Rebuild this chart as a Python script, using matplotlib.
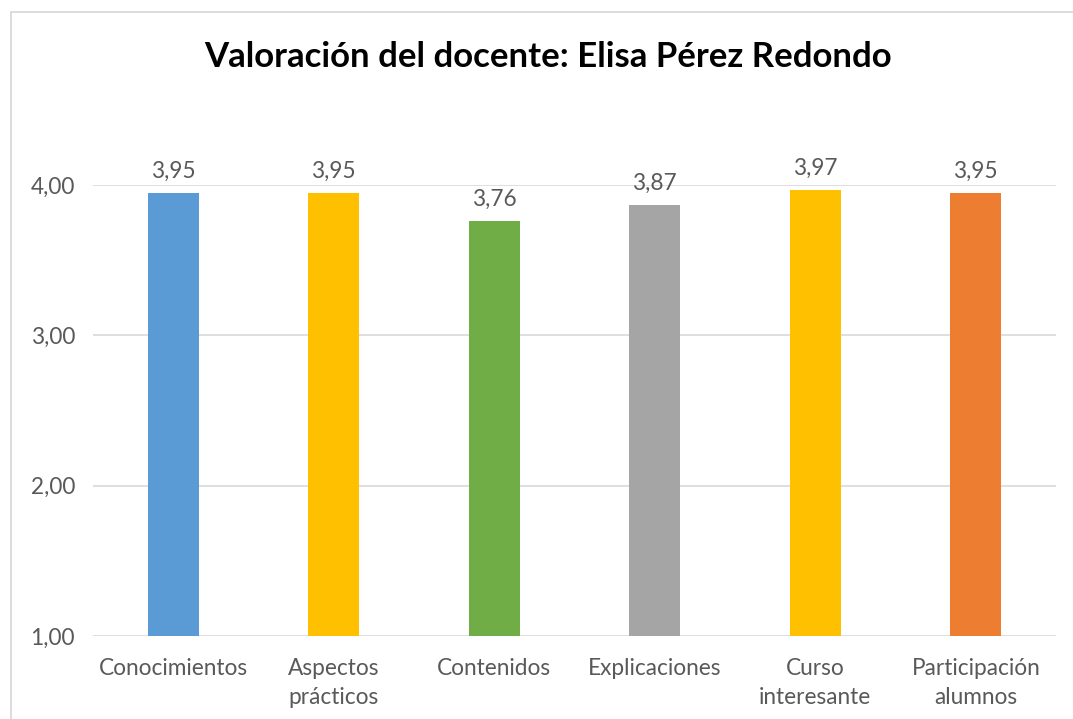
import matplotlib
matplotlib.use("Agg")
import matplotlib.pyplot as plt
from matplotlib.patches import Rectangle

categories = ["Conocimientos", "Aspectos\nprácticos", "Contenidos", "Explicaciones",
              "Curso\ninteresante", "Participación\nalumnos"]
values = [3.95, 3.95, 3.76, 3.87, 3.97, 3.95]
colors = ["#5b9bd5", "#ffc000", "#70ad47", "#a5a5a5", "#ffc000", "#ed7d31"]
yticks = [1, 2, 3, 4]
title = "Valoración del docente: Elisa Pérez Redondo"

plt.rcParams['font.family'] = ['Lato', 'DejaVu Sans']
txt = "#595959"
fs = 16.3

fig = plt.figure(figsize=(10.73, 7.19), dpi=100)
fig.patches.append(Rectangle((11/1073, -0.1), 1.2, 1 - 12/719 + 0.1, transform=fig.transFigure,
                             fill=False, edgecolor="#d9d9d9", linewidth=1.3))
ax = fig.add_axes([93/1073, 83/719, (1056-93)/1073, (636-185)/719])

x = list(range(len(categories)))
bars = ax.bar(x, values, width=0.32, color=colors, zorder=3)
ax.set_ylim(1, 4)
ax.set_xlim(-0.5, len(categories) - 0.5)
ax.set_yticks(yticks)
ax.set_yticklabels([f"{v:.2f}".replace(".", ",") for v in yticks], fontsize=fs, color=txt)
ax.set_xticks(x)
ax.set_xticklabels(categories, fontsize=fs, color=txt, linespacing=1.45)
ax.tick_params(axis='both', length=0)
ax.tick_params(axis='y', pad=13)
ax.tick_params(axis='x', pad=16)
ax.grid(axis='y', color="#d9d9d9", linewidth=1.2, zorder=0)
for s in ax.spines.values():
    s.set_visible(False)

for xi, v in zip(x, values):
    ax.annotate(f"{v:.2f}".replace(".", ","), (xi, v), xytext=(0, 8), textcoords="offset points",
                ha="center", va="bottom", fontsize=fs, color=txt, annotation_clip=False)

fig.text(548/1073, 1 - 57/719, title, ha="center", va="center", fontsize=25,
         fontweight="bold", color="black")

fig.savefig("out.png", dpi=100)
